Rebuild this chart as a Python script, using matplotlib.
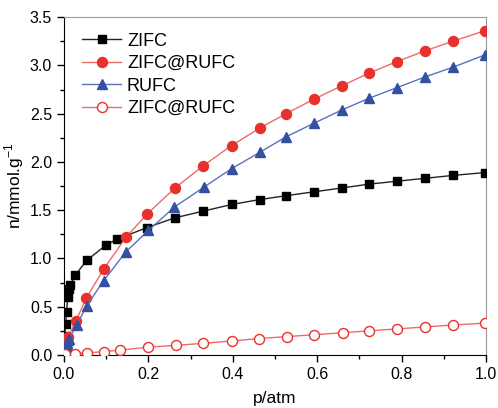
import matplotlib
matplotlib.use("Agg")
import matplotlib.pyplot as plt
from matplotlib.ticker import MultipleLocator

plt.rcParams['font.family'] = ['Liberation Sans', 'DejaVu Sans']
plt.rcParams['mathtext.fontset'] = 'custom'
plt.rcParams['mathtext.rm'] = 'Liberation Sans'

# CO2 adsorption isotherms
p_zifc = [0.001, 0.002, 0.004, 0.006, 0.009, 0.012, 0.014, 0.027, 0.054, 0.10, 0.126, 0.197,
          0.262, 0.33, 0.398, 0.464, 0.526, 0.592, 0.658, 0.723, 0.789, 0.855, 0.921, 0.998]
n_zifc = [0.05, 0.20, 0.32, 0.45, 0.60, 0.68, 0.72, 0.83, 0.98, 1.14, 1.20, 1.32,
          1.42, 1.49, 1.56, 1.61, 1.65, 1.69, 1.73, 1.77, 1.80, 1.83, 1.86, 1.89]

p_core = [0.002, 0.004, 0.007, 0.010, 0.028, 0.053, 0.094, 0.147, 0.197, 0.263, 0.33,
          0.397, 0.464, 0.526, 0.592, 0.659, 0.723, 0.789, 0.855, 0.921, 0.998]
n_core = [0.05, 0.10, 0.15, 0.19, 0.35, 0.59, 0.89, 1.22, 1.46, 1.73, 1.96,
          2.17, 2.35, 2.50, 2.65, 2.79, 2.92, 3.04, 3.15, 3.25, 3.36]

p_rufc = [0.002, 0.004, 0.006, 0.008, 0.010, 0.012, 0.03, 0.054, 0.094, 0.147, 0.20, 0.261,
          0.332, 0.397, 0.464, 0.526, 0.592, 0.659, 0.723, 0.789, 0.855, 0.921, 0.998]
n_rufc = [0.05, 0.08, 0.10, 0.12, 0.15, 0.17, 0.31, 0.51, 0.77, 1.07, 1.29, 1.53,
          1.74, 1.93, 2.10, 2.26, 2.40, 2.54, 2.66, 2.77, 2.88, 2.98, 3.11]

p_open = [0.003, 0.027, 0.054, 0.094, 0.133, 0.198, 0.265, 0.33, 0.397, 0.462, 0.528,
          0.593, 0.66, 0.723, 0.79, 0.855, 0.921, 0.998]
n_open = [0.005, 0.015, 0.02, 0.035, 0.05, 0.08, 0.10, 0.12, 0.145, 0.17, 0.19,
          0.21, 0.23, 0.25, 0.27, 0.29, 0.31, 0.33]

labels = ["ZIFC", "ZIFC@RUFC", "RUFC", "ZIFC@RUFC"]

fig = plt.figure(figsize=(4.98, 4.08), dpi=100)
ax = fig.add_axes([0.1285, 0.130, 0.8475, 0.828])

red = '#e8302c'
red_line = '#f06a66'
blue = '#3350a3'
blue_line = '#5a72bb'

ax.plot(p_zifc, n_zifc, '-s', color='#222222', mfc='black', mec='black', ms=6.2, lw=1.0,
        label=labels[0], zorder=3)
ax.plot(p_core, n_core, '-o', color=red_line, mfc=red, mec=red, ms=7.2, lw=1.0,
        label=labels[1], zorder=3)
ax.plot(p_rufc, n_rufc, '-^', color=blue_line, mfc=blue, mec=blue, ms=7.5, lw=1.0,
        label=labels[2], zorder=3)
ax.plot(p_open, n_open, '-o', color=red_line, mfc='white', mec=red, mew=1.0, ms=7.2, lw=1.0,
        label=labels[3], zorder=3)

ax.set_xlim(0, 1.0)
ax.set_ylim(0, 3.5)
ax.xaxis.set_major_locator(MultipleLocator(0.2))
ax.xaxis.set_minor_locator(MultipleLocator(0.1))
ax.yaxis.set_major_locator(MultipleLocator(0.5))
ax.yaxis.set_minor_locator(MultipleLocator(0.25))
ax.set_xticks([0.0, 0.2, 0.4, 0.6, 0.8, 1.0])
ax.set_xticklabels(['0.0', '0.2', '0.4', '0.6', '0.8', '1.0'])
ax.set_yticklabels([f"{v:.1f}" for v in ax.get_yticks()])

ax.tick_params(which='major', direction='out', length=5, width=1, labelsize=11.5, colors='black')
ax.tick_params(which='minor', direction='out', length=3, width=1)
ax.tick_params(top=False, right=False, which='both')

for s in ['top', 'right']:
    ax.spines[s].set_color('#999999')
for s in ['left', 'bottom']:
    ax.spines[s].set_color('black')

ax.set_xlabel('p/atm', fontsize=12.5, labelpad=7)
ax.set_ylabel(r'n/mmol.g$^{-1}$', fontsize=12.5, labelpad=3)

ax.legend(loc='upper left', bbox_to_anchor=(0.025, 0.975), frameon=False, fontsize=13,
          handlelength=2.2, handletextpad=0.3, labelspacing=0.3, borderaxespad=0.0)

fig.savefig('out.png', dpi=100)
